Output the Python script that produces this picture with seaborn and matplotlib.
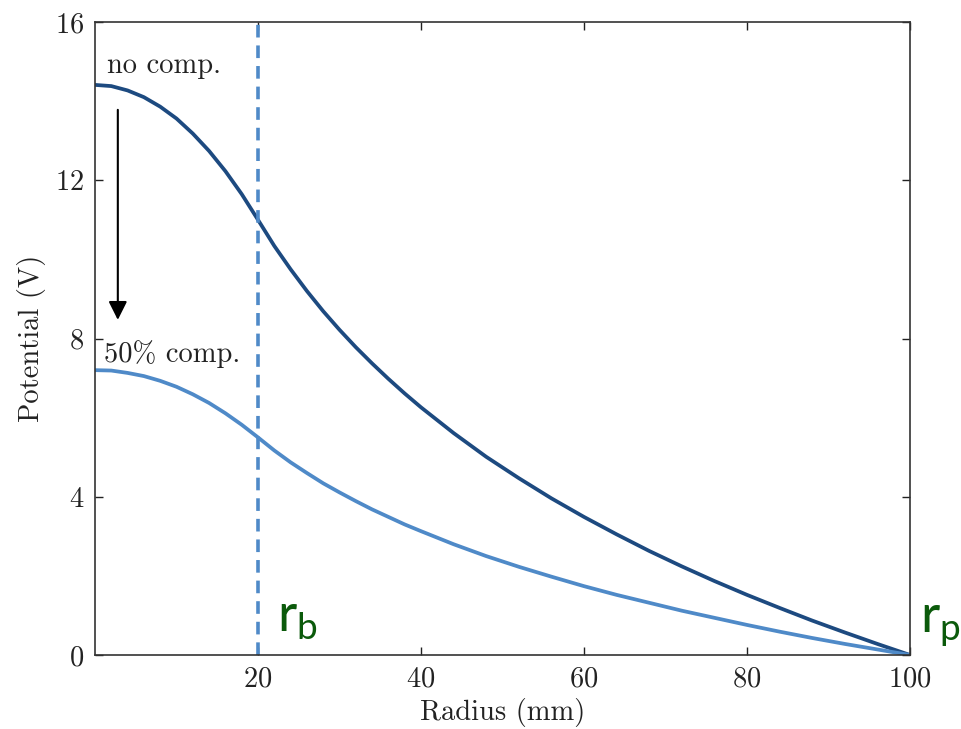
import numpy as np
import matplotlib
matplotlib.use('Agg')
import matplotlib.pyplot as plt
import seaborn as sns
import pandas as pd

# values
radius = [0, 2, 4, 6, 8, 10, 12, 14, 16, 18, 20, 22, 24, 26, 28, 30, 32, 34, 36, 38, 40,
          44, 48, 52, 56, 60, 64, 68, 72, 76, 80, 84, 88, 92, 96, 100]
no_comp = [14.41, 14.38, 14.27, 14.10, 13.86, 13.56, 13.18, 12.74, 12.23, 11.65, 11.0,
           10.34, 9.75, 9.20, 8.69, 8.22, 7.78, 7.37, 6.98, 6.61, 6.26,
           5.61, 5.01, 4.47, 3.96, 3.49, 3.05, 2.63, 2.24, 1.87, 1.52, 1.19, 0.87, 0.57, 0.28, 0.0]
half_comp = [7.2, 7.19, 7.13, 7.05, 6.93, 6.78, 6.59, 6.37, 6.11, 5.82, 5.5,
             5.17, 4.87, 4.6, 4.34, 4.11, 3.89, 3.68, 3.49, 3.3, 3.13,
             2.80, 2.50, 2.23, 1.98, 1.74, 1.52, 1.32, 1.12, 0.94, 0.76, 0.59, 0.43, 0.28, 0.14, 0.0]
beam_radius = 20
xticks = [20, 40, 60, 80, 100]
yticks = [0, 4, 8, 12, 16]

dark = '#1d4a80'
light = '#4f8ac8'
green = '#0b5a0b'
txt = '#222222'

sns.set_style('ticks')
plt.rcParams['font.family'] = ['cmr10', 'DejaVu Serif']
plt.rcParams['axes.formatter.use_mathtext'] = True
plt.rcParams['mathtext.fontset'] = 'cm'

df = pd.DataFrame({'r': radius, 'no comp.': no_comp, '50% comp.': half_comp})

fig = plt.figure(figsize=(9.61, 7.29), dpi=100)
ax = fig.add_axes([95/961, 1 - 655/729, 815/961, 633/729])

sns.lineplot(data=df, x='r', y='no comp.', color=dark, lw=2.7, ax=ax)
sns.lineplot(data=df, x='r', y='50% comp.', color=light, lw=2.7, ax=ax)
ax.axvline(beam_radius, color=light, lw=2.6, ls=(0, (3.5, 2.2)))

ax.set_xlim(0, 100)
ax.set_ylim(0, 16)
ax.set_xticks(xticks)
ax.set_yticks(yticks)
ax.tick_params(direction='in', length=6, width=1, labelsize=20.5, top=True, right=True,
               colors=txt, pad=8)
for s in ax.spines.values():
    s.set_linewidth(1.2)
    s.set_color('#333333')

ax.set_xlabel('Radius (mm)', fontsize=20.5, labelpad=4, color=txt)
ax.set_ylabel('Potential (V)', fontsize=20.5, labelpad=6, color=txt)

ax.text(1.5, 14.9, 'no comp.', fontsize=20.5, color=txt, va='center')
ax.text(1.1, 7.6, '50% comp.', fontsize=20.5, color=txt, va='center')
ax.annotate('', xy=(2.8, 8.4), xytext=(2.8, 13.85),
            arrowprops=dict(arrowstyle='-|>', color='black', lw=1.5, mutation_scale=28))

ax.text(22.3, 0.58, r'$\mathregular{r_b}$', fontsize=38, color=green,
        family='Lato', va='baseline', clip_on=False)
ax.text(101.2, 0.58, r'$\mathregular{r_p}$', fontsize=38, color=green,
        family='Lato', va='baseline', clip_on=False)

fig.savefig('out.png', dpi=100)
